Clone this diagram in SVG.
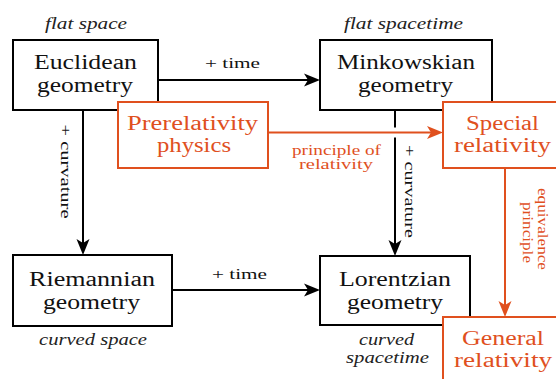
<svg xmlns="http://www.w3.org/2000/svg" width="556" height="379" viewBox="0 0 556 379">
<defs>
<style>
text{font-family:'Liberation Serif','DejaVu Serif','Times New Roman',serif}
.box{fill:#fff;stroke:#000;stroke-width:2}
.obox{fill:#fff;stroke:#E0501E;stroke-width:2}
.big{font-size:20px;fill:#111;text-anchor:middle}
.obig{font-size:20px;fill:#E0501E;text-anchor:middle}
.it{font-size:16px;font-style:italic;fill:#222;text-anchor:middle}
.sm{font-size:15px;fill:#111;text-anchor:middle}
.osm{font-size:14px;fill:#E0501E;text-anchor:middle}
.ln{stroke:#000;stroke-width:2;fill:none}
.oln{stroke:#E0501E;stroke-width:2;fill:none}
</style>
<marker id="ah" viewBox="-9 -8 18 16" refX="0" refY="0" markerWidth="18" markerHeight="16" markerUnits="userSpaceOnUse" orient="auto">
<path d="M8,0 L-8,-6.5 L-4,0 L-8,6.5 Z" fill="#000"/>
</marker>
<marker id="oah" viewBox="-9 -8 18 16" refX="0" refY="0" markerWidth="18" markerHeight="16" markerUnits="userSpaceOnUse" orient="auto">
<path d="M8,0 L-8,-6.5 L-4,0 L-8,6.5 Z" fill="#E0501E"/>
</marker>
</defs>
<rect width="556" height="379" fill="#fff"/>

<g id="connectors">
<line class="ln" x1="158" y1="80" x2="312" y2="80" marker-end="url(#ah)"/>
<text class="sm" x="232.5" y="68" textLength="55" lengthAdjust="spacingAndGlyphs">+ time</text>
<line class="ln" x1="172" y1="290" x2="312" y2="290" marker-end="url(#ah)"/>
<text class="sm" x="239.5" y="279" textLength="55" lengthAdjust="spacingAndGlyphs">+ time</text>
<line class="ln" x1="83" y1="110" x2="83" y2="247" marker-end="url(#ah)"/>
<text class="sm" transform="translate(61,171.5) rotate(90)" textLength="94" lengthAdjust="spacingAndGlyphs">+ curvature</text>
<line class="ln" x1="395" y1="110" x2="395" y2="127.5"/>
<line class="ln" x1="395" y1="137.5" x2="395" y2="248" marker-end="url(#ah)"/>
<text class="sm" transform="translate(405,191.5) rotate(90)" textLength="93" lengthAdjust="spacingAndGlyphs">+ curvature</text>
<line class="oln" x1="268" y1="132.5" x2="435" y2="132.5" marker-end="url(#oah)"/>
<text class="osm" x="336.5" y="155" textLength="89" lengthAdjust="spacingAndGlyphs">principle of</text>
<text class="osm" x="336" y="169" textLength="74" lengthAdjust="spacingAndGlyphs">relativity</text>
<line class="oln" x1="505" y1="168" x2="505" y2="309" marker-end="url(#oah)"/>
<text class="osm" transform="translate(538,229) rotate(90)" textLength="82" lengthAdjust="spacingAndGlyphs">equivalence</text>
<text class="osm" transform="translate(523,232.5) rotate(90)" textLength="61" lengthAdjust="spacingAndGlyphs">principle</text>
</g>

<g id="euclidean">
<rect class="box" x="13" y="40" width="145" height="70"/>
<text class="big" x="85.5" y="69" textLength="103" lengthAdjust="spacingAndGlyphs">Euclidean</text>
<text class="big" x="85" y="92" textLength="96" lengthAdjust="spacingAndGlyphs">geometry</text>
<text class="it" x="86" y="29" textLength="82" lengthAdjust="spacingAndGlyphs">flat space</text>
</g>

<g id="minkowskian">
<rect class="box" x="320" y="40" width="172" height="70"/>
<text class="big" x="406" y="69" textLength="138" lengthAdjust="spacingAndGlyphs">Minkowskian</text>
<text class="big" x="405.5" y="92" textLength="95" lengthAdjust="spacingAndGlyphs">geometry</text>
<text class="it" x="403.5" y="29" textLength="119" lengthAdjust="spacingAndGlyphs">flat spacetime</text>
</g>

<g id="riemannian">
<rect class="box" x="13" y="255" width="159" height="71"/>
<text class="big" x="92" y="286" textLength="126" lengthAdjust="spacingAndGlyphs">Riemannian</text>
<text class="big" x="91.5" y="308.5" textLength="97" lengthAdjust="spacingAndGlyphs">geometry</text>
<text class="it" x="93" y="345" textLength="108" lengthAdjust="spacingAndGlyphs">curved space</text>
</g>

<g id="lorentzian">
<rect class="box" x="320" y="256" width="150" height="69"/>
<text class="big" x="395" y="286" textLength="112" lengthAdjust="spacingAndGlyphs">Lorentzian</text>
<text class="big" x="395" y="308.5" textLength="96" lengthAdjust="spacingAndGlyphs">geometry</text>
<text class="it" x="386.5" y="345" textLength="55" lengthAdjust="spacingAndGlyphs">curved</text>
<text class="it" x="387.5" y="363" textLength="83" lengthAdjust="spacingAndGlyphs">spacetime</text>
</g>

<g id="prerelativity">
<rect class="obox" x="118" y="102" width="150" height="66"/>
<text class="obig" x="192.5" y="130" textLength="131" lengthAdjust="spacingAndGlyphs">Prerelativity</text>
<text class="obig" x="194" y="152" textLength="74" lengthAdjust="spacingAndGlyphs">physics</text>
</g>

<g id="special">
<rect class="obox" x="443" y="102" width="120" height="66"/>
<text class="obig" x="502.5" y="130" textLength="73" lengthAdjust="spacingAndGlyphs">Special</text>
<text class="obig" x="502.5" y="152" textLength="97" lengthAdjust="spacingAndGlyphs">relativity</text>
</g>

<g id="general">
<rect class="obox" x="443" y="317" width="120" height="70"/>
<text class="obig" x="503" y="345" textLength="82" lengthAdjust="spacingAndGlyphs">General</text>
<text class="obig" x="503" y="367" textLength="98" lengthAdjust="spacingAndGlyphs">relativity</text>
</g>
</svg>
